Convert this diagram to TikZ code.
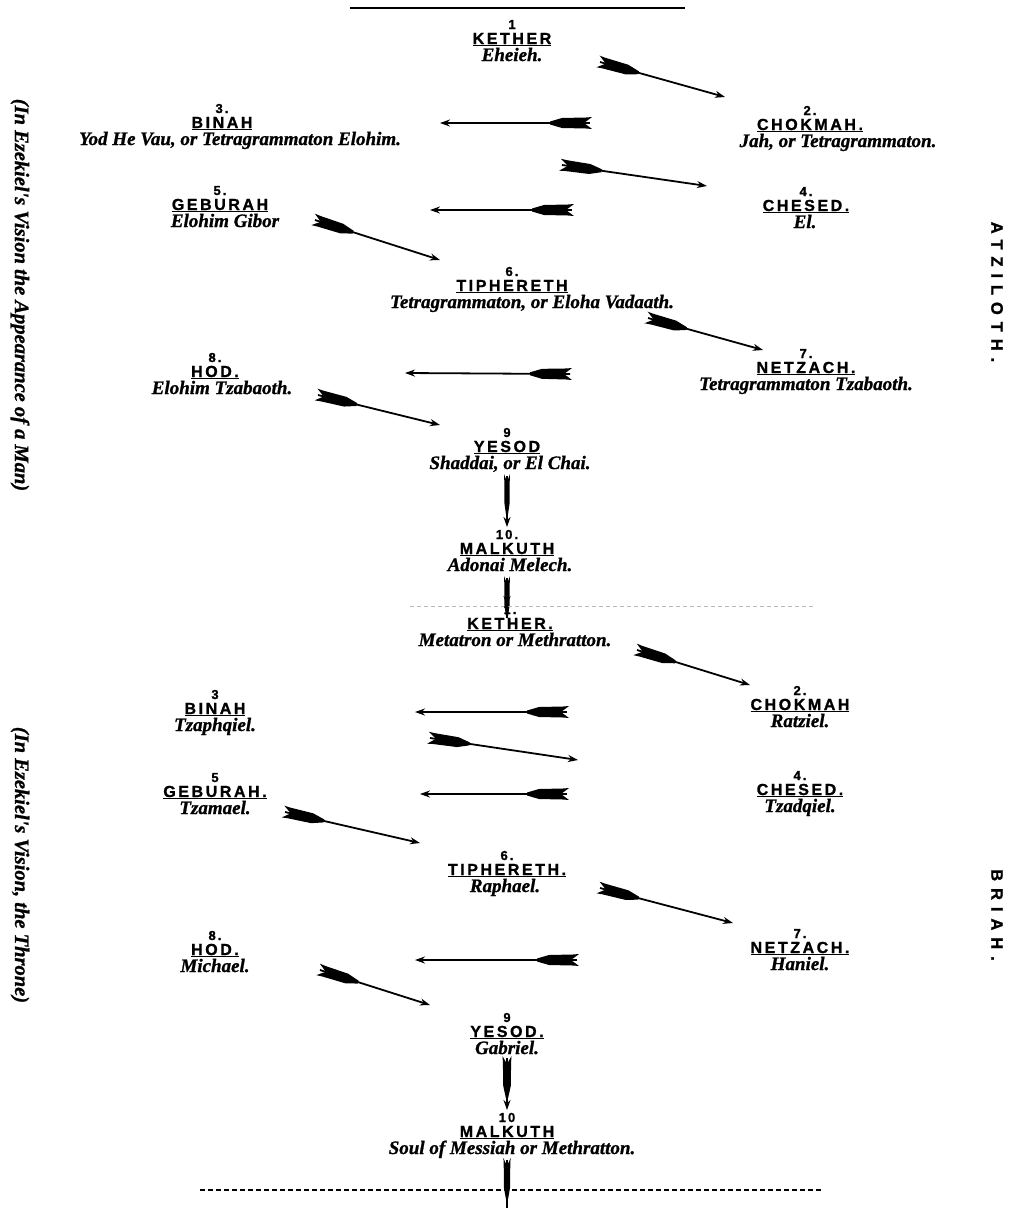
\documentclass[tikz,border=0pt]{standalone}
\usepackage{fontspec}
\usetikzlibrary{arrows.meta,decorations.markings}
\newfontfamily\capsfont[LetterSpace=16,FakeBold=1.2]{Liberation Sans Bold}
\newfontfamily\sidefont[LetterSpace=42,FakeBold=1.2]{Liberation Sans Bold}
\newfontfamily\itfont[FakeBold=1]{Liberation Serif Bold Italic}
\begin{document}
\begin{tikzpicture}[x=1pt,y=-1pt,
  numf/.style={anchor=base,inner sep=0pt,font=\capsfont\fontsize{13}{13}\selectfont},
  capf/.style={anchor=base,inner sep=0pt,font=\capsfont\fontsize{16}{16}\selectfont},
  subf/.style={anchor=base,inner sep=0pt,font=\itfont\fontsize{19}{19}\selectfont},
  sidef/.style={rotate=-90,inner sep=0pt,font=\itfont\fontsize{20.5}{20.5}\selectfont},
  worldf/.style={rotate=-90,inner sep=0pt,font=\sidefont\fontsize{16.5}{16.5}\selectfont},
  fletched/.style={line width=1.8pt,-{Stealth[length=10pt,width=7pt]},
    postaction={decorate},
    decoration={markings, mark=at position 0pt with {
      \fill[yscale=#1] (-2pt,6pt) -- (4pt,5.5pt) -- (28pt,5pt) -- (40pt,1.5pt) -- (40pt,-1.5pt) -- (28pt,-5pt) -- (4pt,-5.5pt) -- (-2pt,-6pt) -- (6pt,0pt) -- cycle;
    }}},
  fletched/.default=1,
  fletchednohead/.style={line width=1.8pt,
    postaction={decorate},
    decoration={markings, mark=at position 0pt with {
      \fill[yscale=#1] (-2pt,6pt) -- (4pt,5.5pt) -- (28pt,5pt) -- (40pt,1.5pt) -- (40pt,-1.5pt) -- (28pt,-5pt) -- (4pt,-5.5pt) -- (-2pt,-6pt) -- (6pt,0pt) -- cycle;
    }}},
  fletchednohead/.default=1
]
\useasboundingbox (0,0) rectangle (1012,1208);

\newcommand\seph[7]{%
  \node[numf] (#1n) at (#2,#3) {#4};
  \node[capf] (#1) at (#2,#3+15) {\underline{#5}};
  \node[subf] (#1s) at (#7,#3+32) {#6};
}

% top rule
\coordinate (tl) at (350,8);
\coordinate (tr) at (685,8);
\draw[line width=2.5pt] (tl) -- (tr);

% ---------- ATZILOTH ----------
\seph{ak}{512}{29}{1}{KETHER}{Eheieh.}{512}
\seph{ab}{222}{113}{3.}{BINAH}{Yod He Vau, or Tetragrammaton Elohim.}{240}
\seph{ac}{810}{115}{2.}{CHOKMAH.}{Jah, or Tetragrammaton.}{838}
\seph{ach}{806}{196}{4.}{CHESED.}{El.}{805}
\seph{ag}{220}{195}{5.}{GEBURAH}{Elohim Gibor}{225}
\seph{at}{512}{276}{6.}{TIPHERETH}{Tetragrammaton, or Eloha Vadaath.}{532}
\seph{an}{806}{358}{7.}{NETZACH.}{Tetragrammaton Tzabaoth.}{806}
\seph{ah}{215}{362}{8.}{HOD.}{Elohim Tzabaoth.}{222}
\seph{ay}{507}{437}{9}{YESOD}{Shaddai, or El Chai.}{510}
\seph{am}{507}{539}{10.}{MALKUTH}{Adonai Melech.}{510}

\coordinate (a1t) at (600,62);  \coordinate (a1h) at (725,97);
\coordinate (a2t) at (590,123); \coordinate (a2h) at (440,123);
\coordinate (a3t) at (562,165); \coordinate (a3h) at (707,186);
\coordinate (a4t) at (572,210); \coordinate (a4h) at (430,210);
\coordinate (a5t) at (315,220); \coordinate (a5h) at (440,260);
\coordinate (a6t) at (648,318); \coordinate (a6h) at (763,350);
\coordinate (a7t) at (570,374); \coordinate (a7h) at (405,373);
\coordinate (a8t) at (318,395); \coordinate (a8h) at (440,425);
\coordinate (a9t) at (507,476); \coordinate (a9h) at (507,527);
\coordinate (a10t) at (507,578); \coordinate (a10h) at (507,606);
\draw[fletched] (a1t) -- (a1h);
\draw[fletched] (a2t) -- (a2h);
\draw[fletched] (a3t) -- (a3h);
\draw[fletched] (a4t) -- (a4h);
\draw[fletched] (a5t) -- (a5h);
\draw[fletched] (a6t) -- (a6h);
\draw[fletched] (a7t) -- (a7h);
\draw[fletched] (a8t) -- (a8h);
\draw[fletched=0.5,line width=1.2pt] (a9t) -- (a9h);
\draw[fletched=0.5,line width=1.2pt] (a10t) -- (a10h);

% separator
\coordinate (d1l) at (410,606);
\coordinate (d1r) at (815,606);
\draw[gray!55,line width=1pt,dash pattern=on 4pt off 3pt] (d1l) -- (d1r);

% ---------- BRIAH ----------
\seph{bk}{510}{614}{1.}{KETHER.}{Metatron or Methratton.}{515}
\seph{bb}{215}{699}{3}{BINAH}{Tzaphqiel.}{215}
\seph{bc}{800}{695}{2.}{CHOKMAH}{Ratziel.}{800}
\seph{bg}{215}{782}{5}{GEBURAH.}{Tzamael.}{215}
\seph{bch}{800}{780}{4.}{CHESED.}{Tzadqiel.}{800}
\seph{bt}{507}{860}{6.}{TIPHERETH.}{Raphael.}{505}
\seph{bn}{800}{938}{7.}{NETZACH.}{Haniel.}{800}
\seph{bh}{215}{940}{8.}{HOD.}{Michael.}{215}
\seph{by}{507}{1022}{9}{YESOD.}{Gabriel.}{507}
\seph{bm}{507}{1122}{10}{MALKUTH}{Soul of Messiah or Methratton.}{512}

\coordinate (b1t) at (637,650); \coordinate (b1h) at (750,685);
\coordinate (b2t) at (567,712); \coordinate (b2h) at (415,712);
\coordinate (b3t) at (430,738); \coordinate (b3h) at (578,760);
\coordinate (b4t) at (567,794); \coordinate (b4h) at (420,794);
\coordinate (b5t) at (285,812); \coordinate (b5h) at (420,843);
\coordinate (b6t) at (600,888); \coordinate (b6h) at (733,923);
\coordinate (b7t) at (577,960); \coordinate (b7h) at (415,960);
\coordinate (b8t) at (320,970); \coordinate (b8h) at (430,1005);
\coordinate (b9t) at (507,1058); \coordinate (b9h) at (507,1110);
\coordinate (b10t) at (507,1160); \coordinate (b10h) at (507,1208);
\draw[fletched] (b1t) -- (b1h);
\draw[fletched] (b2t) -- (b2h);
\draw[fletched] (b3t) -- (b3h);
\draw[fletched] (b4t) -- (b4h);
\draw[fletched] (b5t) -- (b5h);
\draw[fletched] (b6t) -- (b6h);
\draw[fletched] (b7t) -- (b7h);
\draw[fletched] (b8t) -- (b8h);
\draw[fletched=0.75,line width=1.3pt] (b9t) -- (b9h);
\draw[fletchednohead=0.6,line width=1.3pt] (b10t) -- (b10h);

\coordinate (d2l) at (200,1190);
\coordinate (d2r) at (822,1190);
\draw[line width=1.3pt,dash pattern=on 5pt off 3pt] (d2l) -- (d2r);

% side texts
\node[sidef] (v1) at (20,295) {(In Ezekiel's Vision the Appearance of a Man)};
\node[sidef] (v2) at (20,865) {(In Ezekiel's Vision, the Throne)};
\node[worldf] (w1) at (997,292) {ATZILOTH.};
\node[worldf] (w2) at (997,915) {BRIAH.};
\end{tikzpicture}
\end{document}
